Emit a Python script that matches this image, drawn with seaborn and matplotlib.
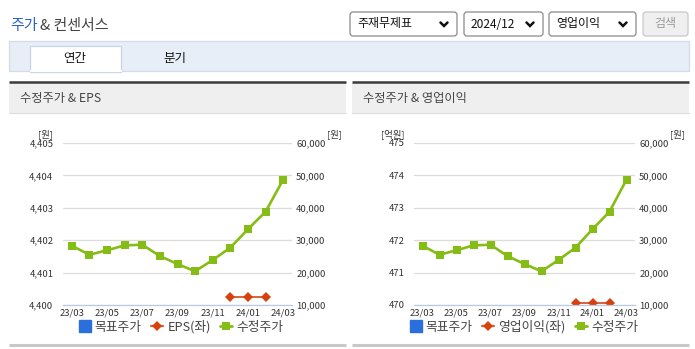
import numpy as np
import pandas as pd
import matplotlib
matplotlib.use("Agg")
import matplotlib.pyplot as plt
import seaborn as sns
from matplotlib.patches import Rectangle, FancyBboxPatch
from matplotlib.lines import Line2D

sns.set_theme(style="white")
plt.rcParams['font.family'] = ['Noto Sans CJK KR', 'DejaVu Sans']

# ---------------- data ----------------
months = ['23/03', '23/04', '23/05', '23/06', '23/07', '23/08', '23/09',
          '23/10', '23/11', '23/12', '24/01', '24/02', '24/03']
price = [28300, 25500, 26900, 28400, 28600, 25100, 22650,
         20400, 23900, 27700, 33400, 38800, 48700]
eps = [np.nan] * 9 + [4400.25, 4400.25, 4400.25] + [np.nan]
op_income = [np.nan] * 9 + [470.06, 470.06, 470.06] + [np.nan]
eps_ticks = [4400, 4401, 4402, 4403, 4404, 4405]
op_ticks = [470, 471, 472, 473, 474, 475]
price_ticks = [10000, 20000, 30000, 40000, 50000, 60000]
xtick_labels = ['23/03', '23/05', '23/07', '23/09', '23/11', '24/01', '24/03']

W, H = 695, 349
fig = plt.figure(figsize=(W / 100, H / 100), dpi=100)
fig.patch.set_facecolor('white')

bg = fig.add_axes([0, 0, 1, 1], zorder=0)
bg.set_xlim(0, W)
bg.set_ylim(H, 0)
bg.axis('off')

TXT = '#333333'
GREEN = '#86bc16'
RED = '#d8400c'
BLUE = '#2a6fdb'

# ---------------- page decorations ----------------
bg.text(10, 26, '주가', color='#2b63c6', fontsize=10.8, va='center', ha='left')
bg.text(40, 26, '& 컨센서스', color='#444444', fontsize=10.8, va='center', ha='left')

def dropdown(x0, x1, label):
    bg.add_patch(FancyBboxPatch((x0, 12), x1 - x0, 24, boxstyle='round,pad=0,rounding_size=3',
                                fc='white', ec='#8a8a8a', lw=0.9))
    bg.text(x0 + 7, 24, label, fontsize=8.6, color='#111111', va='center', ha='left')
    cx = x1 - 13
    bg.plot([cx - 3.5, cx, cx + 3.5], [22.5, 26, 22.5], color='#111111', lw=1.8,
            solid_capstyle='round', solid_joinstyle='miter')

dropdown(350, 457, '주재무제표')
dropdown(464, 543, '2024/12')
dropdown(549, 636, '영업이익')
bg.add_patch(FancyBboxPatch((643, 12), 45, 24, boxstyle='round,pad=0,rounding_size=3',
                            fc='#efefef', ec='#c9c9c9', lw=0.9))
bg.text(665.5, 24, '검색', fontsize=8.6, color='#9a9a9a', va='center', ha='center')

# tab bar
bg.add_patch(Rectangle((9, 41), 680, 30, fc='#e8eef8', ec='#d2dbe8', lw=0.9))
bg.add_patch(Rectangle((30, 46), 91, 26, fc='white', ec='#c9d4e4', lw=0.9))
bg.plot([30.5, 120.5], [71.3, 71.3], color='white', lw=1.5)
bg.text(75, 58.5, '연간', fontsize=9, color='#111111', va='center', ha='center')
bg.text(175, 58.5, '분기', fontsize=9, color='#111111', va='center', ha='center')

# panels
for (x0, x1, title) in [(9, 346, '수정주가 & EPS'), (352, 689, '수정주가 & 영업이익')]:
    bg.add_patch(Rectangle((x0, 83), x1 - x0, 30, fc='#efefef', ec='none'))
    bg.plot([x0, x1], [82, 82], color='#3a3a3a', lw=1.8, solid_capstyle='butt')
    bg.plot([x0, x1], [113, 113], color='#dddddd', lw=0.8)
    bg.text(x0 + 11, 98.5, title, fontsize=8.8, color='#444444', va='center', ha='left')
    bg.plot([x0, x1], [345, 345], color='#c8c8c8', lw=2.2, solid_capstyle='butt')

x = np.arange(len(months))
df = pd.DataFrame({'x': x, 'month': months, 'price': price, 'eps': eps, 'op': op_income})

def chart(px0, px1, left_col, left_ticks, left_fmt, left_unit, leg_label, leg_x):
    left = px0 / W
    width = (px1 - px0) / W
    bottom = (H - 305) / H
    height = (305 - 143) / H
    ax = fig.add_axes([left, bottom, width, height], zorder=2)
    ax.set_facecolor('none')
    ax.set_xlim(-0.5, len(months) - 0.5)
    ax.set_ylim(left_ticks[0], left_ticks[-1])
    ax.set_yticks(left_ticks)
    ax.set_yticklabels([left_fmt(v) for v in left_ticks])
    ax.grid(axis='y', color='#dcdcdc', lw=0.9)
    ax.set_axisbelow(True)
    for s in ['top', 'right', 'left']:
        ax.spines[s].set_visible(False)
    ax.spines['bottom'].set_color('#b9cbe0')
    ax.spines['bottom'].set_linewidth(0.9)
    ax.set_xticks(x[::2])
    ax.set_xticklabels(xtick_labels)
    ax.set_xticks(np.arange(-0.5, len(months)), minor=True)
    ax.tick_params(axis='x', which='major', length=0, pad=2.5, labelsize=6.8, labelcolor=TXT)
    ax.tick_params(axis='x', which='minor', length=4, width=0.8, color='#b9cbe0', direction='out')
    ax.tick_params(axis='y', length=0, pad=7, labelsize=6.8, labelcolor=TXT)
    sns.lineplot(data=df, x='x', y=left_col, ax=ax, color='#d9623a', lw=1.4,
                 marker='D', markersize=5, markerfacecolor=RED, markeredgecolor=RED,
                 markeredgewidth=0)
    ax.set_xlabel('')
    ax.set_ylabel('')

    ax2 = ax.twinx()
    ax2.set_ylim(price_ticks[0], price_ticks[-1])
    ax2.set_yticks(price_ticks)
    ax2.set_yticklabels([f'{v:,}' for v in price_ticks])
    for s in ['top', 'right', 'left', 'bottom']:
        ax2.spines[s].set_visible(False)
    ax2.tick_params(axis='y', length=0, pad=3, labelsize=6.8, labelcolor=TXT)
    sns.lineplot(data=df, x='x', y='price', ax=ax2, color=GREEN, lw=1.9,
                 marker='s', markersize=6.3, markerfacecolor=GREEN, markeredgewidth=0)
    ax2.set_ylabel('')
    ax2.set_xlabel('')
    ax2.grid(False)

    # units
    bg.text(px0 - 10, 134, left_unit, fontsize=6.8, color=TXT, va='center', ha='right')
    bg.text(px1 + 50, 134, '[원]', fontsize=6.8, color=TXT, va='center', ha='right')

    handles = [
        Line2D([], [], color=BLUE, marker='s', ls='none', markersize=8.5),
        Line2D([], [], color='#d9623a', lw=1.6, marker='D', markersize=5,
               markerfacecolor=RED, markeredgewidth=0),
        Line2D([], [], color=GREEN, lw=2.0, marker='s', markersize=6, markeredgewidth=0),
    ]
    fig.legend(handles, ['목표주가', leg_label, '수정주가'], loc='center',
               bbox_to_anchor=(leg_x / W, (H - 327) / H), ncol=3, frameon=False,
               fontsize=9.2, handlelength=0.9, handletextpad=0.35, columnspacing=0.75,
               labelcolor='#444444')
    return ax, ax2

chart(63, 292, 'eps', eps_ticks, lambda v: f'{v:,}', '[원]', 'EPS(좌)', 181)
chart(414, 635, 'op', op_ticks, lambda v: f'{v}', '[억원]', '영업이익(좌)', 524)

fig.savefig('out.png', dpi=100, facecolor='white')
